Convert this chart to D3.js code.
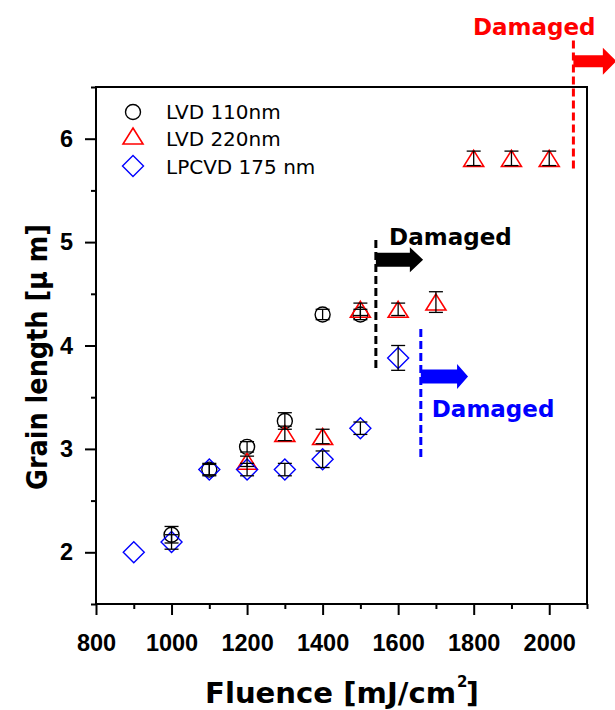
<!DOCTYPE html>
<html><head><meta charset="utf-8">
<script src="https://cdn.jsdelivr.net/npm/d3@7"></script>
<style>body{margin:0;background:#fff}</style>
</head><body>
<svg id="c" width="615" height="710"></svg>
<script>
// ---- data ----
const seriesNames = ["LVD 110nm", "LVD 220nm", "LPCVD 175 nm"];
const lvd110X = [1000, 1100, 1200, 1300, 1400, 1500];
const lvd110Y = [2.17, 2.80, 3.02, 3.27, 4.30, 4.30];
const lvd110Err = [0.08, 0.05, 0.05, 0.08, 0.05, 0.05];
const lvd220X = [1200, 1300, 1400, 1500, 1600, 1700, 1800, 1900, 2000];
const lvd220Y = [2.88, 3.15, 3.12, 4.35, 4.35, 4.42, 5.81, 5.81, 5.81];
const lvd220Err = [0.05, 0.07, 0.07, 0.06, 0.06, 0.10, 0.07, 0.07, 0.07];
const lpcvdX = [900, 1000, 1100, 1200, 1300, 1400, 1500, 1600];
const lpcvdY = [2.00, 2.10, 2.80, 2.80, 2.80, 2.90, 3.20, 3.88];
const lpcvdErr = [0, 0.07, 0.06, 0.06, 0.06, 0.08, 0.06, 0.12];
const xMajorTicks = [800, 1000, 1200, 1400, 1600, 1800, 2000];
const yMajorTicks = [2, 3, 4, 5, 6];
const damageLabel = "Damaged";
// damage thresholds (fluence) and their annotation extents
const damageX = [1541, 1660, 2064];
const damageTop = [5.02, 4.16, 6.95];
const damageBottom = [3.77, 2.90, 5.71];
const damageColors = ["#000000", "#0000ff", "#ff0000"];

// ---- layout ----
const svg = d3.select("#c");
const x = d3.scaleLinear().domain([800, 2100]).range([96, 587]);
const y = d3.scaleLinear().domain([1.5, 6.5]).range([604, 87]);

// axes
const tickFont = "'Liberation Sans', Arial, sans-serif";
const gx = svg.append("g").attr("transform", "translate(0,604)")
  .call(d3.axisBottom(x).tickValues(xMajorTicks).tickSize(11).tickPadding(19).tickFormat(d3.format("d")));
gx.select(".domain").remove();
gx.selectAll(".tick line").attr("stroke", "#000").attr("stroke-width", 2);
gx.selectAll("text").attr("font-family", tickFont).attr("font-weight", "bold").attr("font-size", 23.5).attr("fill", "#000");
const xMinor = d3.range(900, 2101, 100).filter(v => !xMajorTicks.includes(v));
const gxm = svg.append("g").attr("transform", "translate(0,604)")
  .call(d3.axisBottom(x).tickValues(xMinor).tickSize(5).tickFormat(""));
gxm.select(".domain").remove();
gxm.selectAll(".tick line").attr("stroke", "#000").attr("stroke-width", 2);

const gy = svg.append("g").attr("transform", "translate(96,0)")
  .call(d3.axisLeft(y).tickValues(yMajorTicks).tickSize(11).tickPadding(12).tickFormat(d3.format("d")));
gy.select(".domain").remove();
gy.selectAll(".tick line").attr("stroke", "#000").attr("stroke-width", 2);
gy.selectAll("text").attr("font-family", tickFont).attr("font-weight", "bold").attr("font-size", 23.5).attr("fill", "#000");
const yMinor = d3.range(1.5, 6.51, 1);
const gym = svg.append("g").attr("transform", "translate(96,0)")
  .call(d3.axisLeft(y).tickValues(yMinor).tickSize(5).tickFormat(""));
gym.select(".domain").remove();
gym.selectAll(".tick line").attr("stroke", "#000").attr("stroke-width", 2);

// frame
svg.append("rect").attr("x", x(800)).attr("y", y(6.5))
  .attr("width", x(2100) - x(800)).attr("height", y(1.5) - y(6.5))
  .attr("fill", "none").attr("stroke", "#000").attr("stroke-width", 2);

// axis titles
const titleFont = "'DejaVu Sans', sans-serif";
const xt = svg.append("g");
xt.append("text").attr("x", 205).attr("y", 703).attr("font-family", titleFont).attr("font-weight", "bold")
  .attr("font-size", 28).attr("textLength", 251).attr("lengthAdjust", "spacingAndGlyphs").text("Fluence [mJ/cm");
xt.append("text").attr("x", 457).attr("y", 687).attr("font-family", titleFont).attr("font-weight", "bold")
  .attr("font-size", 15).text("2");
xt.append("text").attr("x", 466).attr("y", 703).attr("font-family", titleFont).attr("font-weight", "bold")
  .attr("font-size", 28).text("]");
svg.append("text").attr("transform", "translate(47,490) rotate(-90)")
  .attr("font-family", titleFont).attr("font-weight", "bold").attr("font-size", 28)
  .attr("textLength", 266).attr("lengthAdjust", "spacingAndGlyphs").text("Grain length [μ m]");

// markers
const trianglePath = "M0,-8L10,8L-10,8Z";
const diamondPath = "M0,-10.5L10.5,0L0,10.5L-10.5,0Z";
const zip = (xs, ys, es) => xs.map((v, i) => ({x: v, y: ys[i], e: es[i]}));
const s110 = zip(lvd110X, lvd110Y, lvd110Err);
const s220 = zip(lvd220X, lvd220Y, lvd220Err);
const sCvd = zip(lpcvdX, lpcvdY, lpcvdErr);

const plot = svg.append("g");
plot.selectAll("circle.m110").data(s110).join("circle")
  .attr("cx", d => x(d.x)).attr("cy", d => y(d.y)).attr("r", 7.5)
  .attr("fill", "none").attr("stroke", "#000").attr("stroke-width", 1.4);
plot.selectAll("path.m220").data(s220).join("path").attr("class", "m220")
  .attr("transform", d => `translate(${x(d.x)},${y(d.y)})`).attr("d", trianglePath)
  .attr("fill", "none").attr("stroke", "#ff0000").attr("stroke-width", 1.6);
plot.selectAll("path.mcvd").data(sCvd).join("path").attr("class", "mcvd")
  .attr("transform", d => `translate(${x(d.x)},${y(d.y)})`).attr("d", diamondPath)
  .attr("fill", "none").attr("stroke", "#0000ff").attr("stroke-width", 1.4);

// error bars (black)
const allErr = [...s110, ...s220, ...sCvd].filter(d => d.e > 0);
const eb = plot.append("g").attr("stroke", "#000").attr("stroke-width", 1.3);
allErr.forEach(d => {
  const cx = x(d.x), y0 = y(d.y - d.e), y1 = y(d.y + d.e);
  eb.append("line").attr("x1", cx).attr("x2", cx).attr("y1", y0).attr("y2", y1);
  eb.append("line").attr("x1", cx - 7).attr("x2", cx + 7).attr("y1", y0).attr("y2", y0);
  eb.append("line").attr("x1", cx - 7).attr("x2", cx + 7).attr("y1", y1).attr("y2", y1);
});

// damage annotations
const arrowEndX = [1631, 1756, 2142];
const arrowTipX = [1666, 1785, 2178];
const arrowY = [4.83, 3.70, 6.75];
const labelX = [1576, 1689, 1798];
const labelY = [4.97, 3.31, 7.0];
const ann = svg.append("g");
damageX.forEach((dx, i) => {
  const c = damageColors[i];
  ann.append("line").attr("x1", x(dx)).attr("x2", x(dx)).attr("y1", y(damageTop[i])).attr("y2", y(damageBottom[i]))
    .attr("stroke", c).attr("stroke-width", 3).attr("stroke-dasharray", "8,4");
  const x0 = x(dx), x1 = x(arrowEndX[i]), x2 = x(arrowTipX[i]), cy = y(arrowY[i]);
  const sh = i === 2 ? 6 : 7, hh = i === 2 ? 13.5 : 12.5;
  ann.append("path").attr("d", `M${x0},${cy - sh}L${x1},${cy - sh}L${x1},${cy - hh}L${x2},${cy}L${x1},${cy + hh}L${x1},${cy + sh}L${x0},${cy + sh}Z`)
    .attr("fill", c);
  ann.append("text").attr("x", x(labelX[i])).attr("y", y(labelY[i]))
    .attr("font-family", titleFont).attr("font-weight", "bold").attr("font-size", 23)
    .attr("fill", c).text(damageLabel);
});

// legend
const lg = svg.append("g");
const legY = [112, 136, 166];
const legTextY = [118.5, 146, 173.5];
lg.append("circle").attr("cx", 133).attr("cy", legY[0]).attr("r", 7.5).attr("fill", "none").attr("stroke", "#000").attr("stroke-width", 1.4);
lg.append("path").attr("transform", `translate(133,${legY[1]})`).attr("d", trianglePath).attr("fill", "none").attr("stroke", "#ff0000").attr("stroke-width", 1.6);
lg.append("path").attr("transform", `translate(133,${legY[2]})`).attr("d", diamondPath).attr("fill", "none").attr("stroke", "#0000ff").attr("stroke-width", 1.4);
seriesNames.forEach((n, i) => {
  lg.append("text").attr("x", 166).attr("y", legTextY[i]).attr("font-family", titleFont)
    .attr("font-size", 20).attr("fill", "#000").text(n);
});
</script>
</body></html>
